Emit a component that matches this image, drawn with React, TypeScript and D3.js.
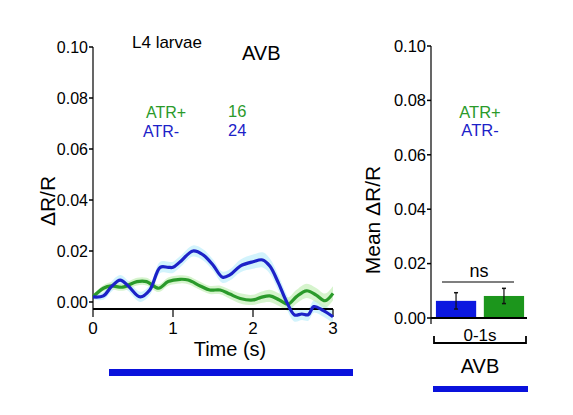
import React from "react";
import * as d3 from "d3";

const timeMinus = [0, 0.13, 0.23, 0.34, 0.44, 0.59, 0.71, 0.84, 0.94, 1.0, 1.09, 1.25, 1.38, 1.5, 1.62, 1.71, 1.84, 2.0, 2.12, 2.21, 2.32, 2.42, 2.52, 2.61, 2.69, 2.76, 2.88, 3.0];
const atrMinus = [0.002, 0.0024, 0.006, 0.0086, 0.0063, 0.002, 0.0047, 0.0136, 0.0136, 0.0136, 0.0158, 0.02, 0.0184, 0.0145, 0.0097, 0.0106, 0.0141, 0.0158, 0.0165, 0.0141, 0.0073, 0.0001, -0.0051, -0.0047, -0.005, -0.0018, -0.0034, -0.0058];
const semMinus = [0.001, 0.0015, 0.002, 0.002, 0.002, 0.002, 0.002, 0.0022, 0.0022, 0.0022, 0.0022, 0.0022, 0.0022, 0.0022, 0.0022, 0.0022, 0.0025, 0.0028, 0.003, 0.003, 0.003, 0.0028, 0.0026, 0.0024, 0.0024, 0.0024, 0.0024, 0.0024];

const timePlus = [0, 0.13, 0.23, 0.37, 0.55, 0.67, 0.82, 0.94, 1.09, 1.19, 1.34, 1.46, 1.59, 1.71, 1.84, 2.0, 2.1, 2.21, 2.33, 2.44, 2.54, 2.67, 2.79, 2.9, 3.0];
const atrPlus = [0.002, 0.0054, 0.0063, 0.0058, 0.008, 0.008, 0.0054, 0.008, 0.0089, 0.0086, 0.0063, 0.0047, 0.0047, 0.0031, 0.0014, 0.0008, 0.0018, 0.0024, 0.0008, -0.0008, 0.002, 0.0044, 0.0027, 0.0005, 0.0034];
const semPlus = [0.001, 0.0012, 0.0014, 0.0014, 0.0015, 0.0015, 0.0015, 0.0016, 0.0016, 0.0016, 0.0016, 0.0016, 0.0017, 0.0018, 0.002, 0.002, 0.0022, 0.0024, 0.0025, 0.0026, 0.0027, 0.0028, 0.0028, 0.0028, 0.0028];

const yTicks = [0, 0.02, 0.04, 0.06, 0.08, 0.1];
const xTicks = [0, 1, 2, 3];

const barGroups = ["ATR-", "ATR+"];
const barMeans = [0.0063, 0.0081];
const barErrs = [0.003, 0.0028];

const BLUE = "#1c22c8";
const GREEN = "#2a9a2a";
const BAR_BLUE = "#0c18e0";
const BAR_GREEN = "#1c961c";
const FONT = "'Liberation Sans', Arial, sans-serif";

export default function App() {
  const xL = d3.scaleLinear().domain([0, 3]).range([93, 333]);
  const yL = d3.scaleLinear().domain([0, 0.1]).range([302, 47]);
  const yR = d3.scaleLinear().domain([0, 0.1]).range([318, 46]);
  const xB = d3.scaleBand<string>().domain(barGroups).range([434, 526]).paddingInner(0.16).paddingOuter(0.04);

  const mkLine = (ts: number[]) =>
    d3.line<number>().x((_, i) => xL(ts[i])).y((d) => yL(d)).curve(d3.curveCatmullRom);
  const mkArea = (ts: number[], vs: number[]) =>
    d3.area<number>()
      .x((_, i) => xL(ts[i]))
      .y0((d, i) => yL(vs[i] - d))
      .y1((d, i) => yL(vs[i] + d))
      .curve(d3.curveCatmullRom);

  const axisY = 309;
  const colors = [BAR_BLUE, BAR_GREEN];

  return (
    <svg width={573} height={415} style={{ position: "absolute", left: 0, top: 0, background: "#fff" }} fontFamily={FONT}>
      <rect width={573} height={415} fill="#fff" />
      {/* Left panel: bands */}
      <path d={mkArea(timeMinus, atrMinus)(semMinus) || ""} fill="#bfeefb" opacity={0.7} />
      <path d={mkArea(timePlus, atrPlus)(semPlus) || ""} fill="#c4f0b8" opacity={0.7} />
      {/* axes left */}
      <line x1={xL(0)} x2={xL(3)} y1={axisY} y2={axisY} stroke="#000" strokeWidth={2} />
      <line x1={xL(0)} x2={xL(0)} y1={yL(0.1)} y2={axisY} stroke="#000" strokeWidth={1.2} />
      {yTicks.map((t) => (
        <g key={"yl" + t}>
          <line x1={xL(0) - 4} x2={xL(0)} y1={yL(t)} y2={yL(t)} stroke="#000" strokeWidth={1.5} />
          <text x={xL(0) - 5} y={yL(t)} dy="0.35em" textAnchor="end" fontSize={16}>{t.toFixed(2)}</text>
        </g>
      ))}
      {xTicks.map((t) => (
        <g key={"xl" + t}>
          <line x1={xL(t)} x2={xL(t)} y1={axisY} y2={axisY + 8} stroke="#000" strokeWidth={1.2} />
          <text x={xL(t)} y={334} textAnchor="middle" fontSize={17}>{t}</text>
        </g>
      ))}
      {/* lines */}
      <path d={mkLine(timePlus)(atrPlus) || ""} fill="none" stroke={GREEN} strokeWidth={3.2} />
      <path d={mkLine(timeMinus)(atrMinus) || ""} fill="none" stroke={BLUE} strokeWidth={3.2} />
      <text x={230} y={356} textAnchor="middle" fontSize={20}>Time (s)</text>
      <text transform="translate(55,201) rotate(-90)" textAnchor="middle" fontSize={21}>ΔR/R</text>
      <text x={132} y={48} fontSize={17}>L4 larvae</text>
      <text x={242} y={60} fontSize={20}>AVB</text>
      <text x={146} y={118} fontSize={16} fill={GREEN}>ATR+</text>
      <text x={143} y={137} fontSize={16} fill={BLUE}>ATR-</text>
      <text x={228} y={117} fontSize={16.5} fill={GREEN}>16</text>
      <text x={228} y={136} fontSize={16.5} fill={BLUE}>24</text>
      <rect x={xL(0.2)} y={369} width={xL(3.25) - xL(0.2)} height={7} fill="#0a12dc" />

      {/* Right panel */}
      <line x1={431} x2={431} y1={yR(0.1)} y2={324} stroke="#000" strokeWidth={1.2} />
      {yTicks.map((t) => (
        <g key={"yr" + t}>
          <line x1={427} x2={431} y1={yR(t)} y2={yR(t)} stroke="#000" strokeWidth={1.5} />
          <text x={426} y={yR(t)} dy="0.35em" textAnchor="end" fontSize={16.5}>{t.toFixed(2)}</text>
        </g>
      ))}
      {barGroups.map((g, i) => {
        const x0 = xB(g)!;
        const cx = x0 + xB.bandwidth() / 2;
        return (
          <g key={g}>
            <rect x={x0} y={yR(barMeans[i])} width={xB.bandwidth()} height={yR(0) - yR(barMeans[i])} fill={colors[i]} />
            <line x1={cx} x2={cx} y1={yR(barMeans[i] - barErrs[i])} y2={yR(barMeans[i] + barErrs[i])} stroke="#111" strokeWidth={1.2} />
            <line x1={cx - 2} x2={cx + 2} y1={yR(barMeans[i] + barErrs[i])} y2={yR(barMeans[i] + barErrs[i])} stroke="#111" strokeWidth={1.5} />
            <line x1={cx - 2} x2={cx + 2} y1={yR(barMeans[i] - barErrs[i])} y2={yR(barMeans[i] - barErrs[i])} stroke="#111" strokeWidth={1.5} />
          </g>
        );
      })}
      <line x1={431} x2={527} y1={yR(0)} y2={yR(0)} stroke="#000" strokeWidth={2} />
      <line x1={442} x2={514} y1={282} y2={282} stroke="#000" strokeWidth={1.2} />
      <text x={479} y={277} textAnchor="middle" fontSize={18}>ns</text>
      <path d="M434,336 V343 H526 V336" fill="none" stroke="#000" strokeWidth={1.8} />
      <text x={480} y={341} textAnchor="middle" fontSize={17}>0-1s</text>
      <text x={480} y={373} textAnchor="middle" fontSize={20}>AVB</text>
      <rect x={433} y={386} width={95} height={6} fill="#0a12dc" />
      <text x={480} y={118} textAnchor="middle" fontSize={16.5} fill={GREEN}>ATR+</text>
      <text x={480} y={136} textAnchor="middle" fontSize={16.5} fill={BLUE}>ATR-</text>
      <text transform="translate(380,220) rotate(-90)" textAnchor="middle" fontSize={21}>Mean ΔR/R</text>
    </svg>
  );
}
